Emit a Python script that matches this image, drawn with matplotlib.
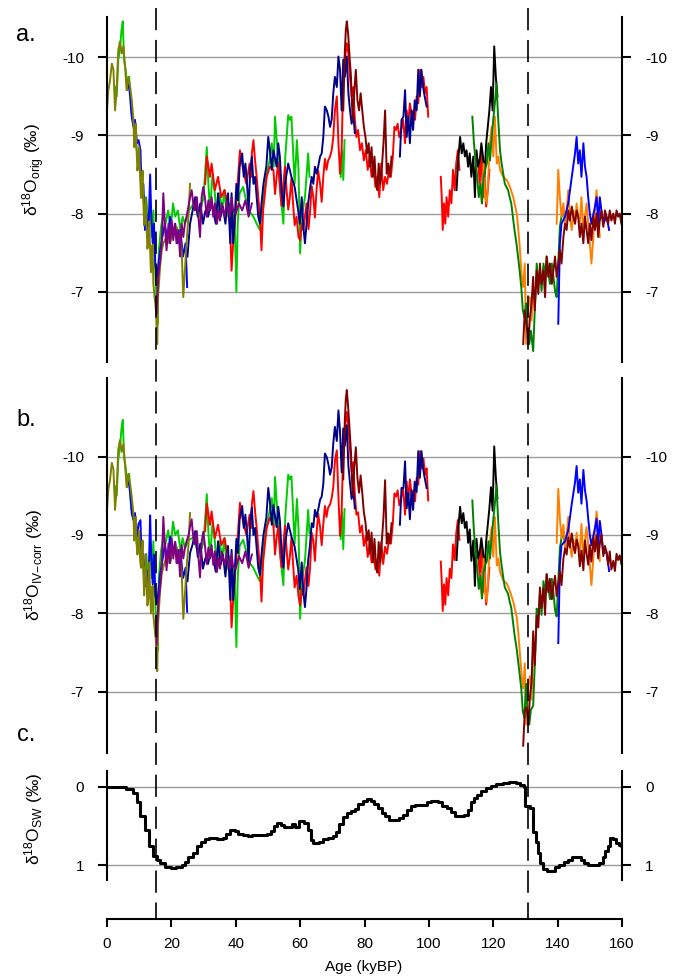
import matplotlib.pyplot as plt

plt.rcParams['font.family'] = 'Liberation Sans'
plt.rcParams['axes.unicode_minus'] = False
plt.rcParams['mathtext.fontset'] = 'custom'
plt.rcParams['mathtext.rm'] = 'Liberation Sans'
plt.rcParams['mathtext.it'] = 'Liberation Sans:italic'
plt.rcParams['mathtext.bf'] = 'Liberation Sans:bold'
plt.rcParams['lines.scale_dashes'] = False

# ---- data (age in kyBP; orig = panel a, ivc = panel b) ----
olive_age = [0.0, 0.4, 0.9, 1.5, 2.0, 2.5, 3.0, 3.5, 4.0, 4.6, 5.1, 5.6, 6.1, 6.6, 7.2, 7.7, 8.2, 8.45, 8.7, 8.95,
             9.2, 9.45, 9.7, 10.0, 10.3, 10.55, 10.8, 11.05, 11.3, 11.55, 11.8, 12.05, 12.3, 12.55, 12.8, 13.1,
             13.4, 13.65, 13.9, 14.15, 14.4, 14.7, 15.2, 15.6, 15.9, 16.5, 17.0, 17.5,
             18.5, 19.6, 20.6, 21.6, 22.7, 23.2, 23.7, 24.2, 24.7, 25.3, 25.8]
olive_orig = [-9.32, -9.58, -9.69, -9.92, -9.84, -9.32, -9.58, -10.09, -10.20, -10.05, -10.14, -9.88, -9.58, -9.75,
              -9.62, -9.45, -9.20, -8.85, -8.98, -9.15, -8.81, -8.55, -8.64, -8.85, -8.47, -8.20, -8.30, -8.55,
              -8.13, -7.85, -7.96, -8.20, -7.83, -7.55, -7.62, -7.90, -7.53, -7.25, -7.36, -7.60,
              -7.10, -6.97, -6.76, -6.33, -6.97, -7.32, -7.53, -7.62, -7.70, -7.62, -7.79, -7.83, -7.70, -7.53,
              -6.93, -7.27, -7.62, -7.96, -8.38]
olive_ivc = [-9.32, -9.58, -9.69, -9.92, -9.84, -9.32, -9.58, -10.09, -10.21, -10.06, -10.16, -9.90, -9.61, -9.78,
             -9.65, -9.48, -9.28, -8.93, -9.06, -9.23, -8.89, -8.75, -8.84, -9.05, -8.67, -8.58, -8.68, -8.93,
             -8.51, -8.23, -8.51, -8.75, -8.38, -8.10, -8.17, -8.65, -8.28, -8.00, -8.11, -8.35,
             -7.98, -7.85, -7.64, -7.26, -7.90, -8.29, -8.50, -8.59, -8.72, -8.64, -8.83, -8.85, -8.72, -8.53,
             -7.93, -8.23, -8.58, -8.86, -9.28]

green_age = [2.5, 3.0, 3.5, 4.0, 4.5, 4.9, 5.3, 5.8, 6.3, 6.9, 7.5, 8.0, 8.6, 9.2, 9.8, 10.4, 11.0, 11.6, 12.2, 12.8,
             13.4, 13.9, 14.4, 14.9, 15.4, 15.7, 16.1, 16.8, 17.5, 18.2, 19.0, 19.8, 20.5, 21.2, 22.0, 22.8, 23.5,
             24.2, 25.5, 27.0, 28.5, 30.0, 31.0, 31.5, 32.0, 32.8, 33.5, 34.2, 35.0, 35.8, 36.5, 37.2, 38.0, 38.8,
             39.6, 40.2, 40.6, 41.2, 42.3, 43.0, 44.0, 45.5, 46.5, 47.5, 48.5, 49.5, 50.5, 51.2, 51.8, 52.2, 52.8,
             53.4, 54.0, 54.8, 55.4, 56.3, 56.8, 57.3, 57.8, 58.3, 59.0, 59.5, 60.0, 60.5, 61.5, 62.5, 62.9]
green_orig = [-9.62, -9.50, -9.97, -10.09, -10.35, -10.46, -9.97, -9.84, -9.58, -9.75, -9.32, -9.20, -9.07, -8.81,
              -8.77, -8.47, -8.38, -8.04, -8.21, -7.87, -8.09, -7.70, -8.04, -7.36, -6.89, -6.59, -7.53, -7.83,
              -8.00, -7.87, -8.04, -7.79, -8.13, -7.96, -8.04, -7.79, -7.96, -7.87, -8.04, -8.13, -7.96, -8.21,
              -8.85, -8.38, -8.04, -8.51, -8.26, -7.87, -8.26, -8.04, -8.30, -7.96, -8.13, -7.87, -8.04, -7.00,
              -7.87, -8.26, -8.34, -8.21, -8.04, -7.96, -7.87, -7.79, -8.21, -8.47, -8.68, -8.90, -8.60, -9.24,
              -8.90, -8.56, -8.21, -7.87, -8.73, -9.26, -9.20, -9.24, -8.81, -8.38, -8.94, -8.56, -7.49, -7.96,
              -8.21, -8.77, -8.47]
green_ivc = [-9.62, -9.50, -9.97, -10.10, -10.36, -10.47, -9.99, -9.86, -9.61, -9.78, -9.35, -9.28, -9.15, -8.89,
             -8.97, -8.85, -8.76, -8.42, -8.76, -8.42, -8.84, -8.45, -8.92, -8.24, -7.77, -7.52, -8.46, -8.80,
             -8.97, -8.89, -9.06, -8.83, -9.17, -9.00, -9.06, -8.81, -8.96, -8.83, -8.94, -8.97, -8.72, -8.91,
             -9.52, -9.04, -8.70, -9.17, -8.92, -8.53, -8.92, -8.70, -8.96, -8.56, -8.73, -8.42, -8.59, -7.57,
             -8.44, -8.86, -8.94, -8.83, -8.66, -8.58, -8.49, -8.41, -8.83, -9.09, -9.30, -9.47, -9.10, -9.74,
             -9.36, -9.02, -8.67, -8.36, -9.24, -9.77, -9.71, -9.75, -9.32, -8.89, -9.46, -9.08, -7.93, -8.40,
             -8.67, -9.32, -9.02]
green_late_age = [72.6, 73.0, 73.4, 73.8]
green_late_orig = [-8.47, -8.81, -8.43, -8.94]
green_late_ivc = [-8.95, -9.29, -8.82, -9.33]

blue_age = [6.6, 7.2, 7.7, 8.2, 8.7, 9.3, 9.8, 10.4, 10.8, 11.3, 11.8, 12.3, 12.8, 13.4, 13.7, 14.2, 14.6, 15.0,
            15.5, 16.0, 16.5, 17.2, 18.0, 18.8, 19.6, 20.4, 21.2, 22.0, 22.8, 23.6, 24.4, 24.9]
blue_orig = [-9.71, -9.50, -9.24, -9.11, -9.20, -8.90, -8.94, -8.81, -8.21, -8.38, -7.79, -8.00, -7.62, -8.50,
             -8.04, -7.62, -7.87, -7.36, -7.19, -7.36, -7.53, -7.70, -7.87, -7.62, -7.96, -7.70, -7.87, -7.62,
             -7.79, -7.45, -7.62, -7.06]
blue_ivc = [-9.74, -9.53, -9.27, -9.19, -9.28, -8.98, -9.14, -9.19, -8.59, -8.76, -8.34, -8.55, -8.17, -9.25,
            -8.79, -8.37, -8.75, -8.24, -8.12, -8.29, -8.50, -8.67, -8.89, -8.64, -8.98, -8.74, -8.91, -8.64,
            -8.81, -8.45, -8.58, -8.02]
blue_late_age = [140.2, 140.7, 141.2, 142.3, 143.3, 144.4, 145.4, 145.9, 146.4, 146.9, 147.4, 148.0, 148.5, 149.0,
                 149.5, 150.0, 150.5, 151.6, 152.1, 152.6, 153.1, 153.6, 154.2, 155.2, 156.0]
blue_late_orig = [-6.59, -7.62, -7.87, -7.96, -8.13, -8.47, -8.77, -8.98, -8.64, -8.81, -8.47, -8.90, -8.60, -8.47,
                  -8.21, -8.00, -7.87, -8.09, -8.21, -7.87, -8.21, -8.04, -7.87, -7.96, -7.79]
blue_late_ivc = [-7.62, -8.62, -8.87, -8.92, -9.06, -9.40, -9.67, -9.88, -9.54, -9.71, -9.40, -9.83, -9.57, -9.44,
                 -9.21, -9.00, -8.87, -9.09, -9.21, -8.87, -9.18, -9.01, -8.77, -8.78, -8.54]

navy_age = [25.0, 25.8, 26.6, 27.4, 28.2, 29.0, 29.8, 30.6, 31.4, 32.2, 33.0, 33.8, 34.5, 35.3, 36.0, 36.8, 37.6,
            38.3, 38.7, 39.2, 39.7, 40.2, 40.7, 41.2, 42.0, 42.5, 43.0, 43.5, 44.0, 44.5, 45.0, 45.5, 46.0, 46.5,
            47.0, 47.5, 48.0, 48.6, 49.5, 50.1, 50.6, 51.2, 51.7, 52.7, 53.2, 53.7, 54.3, 54.8, 55.3, 56.3, 57.3,
            58.3, 59.4, 59.9, 60.5, 61.0, 61.5, 62.0, 62.5, 63.0, 63.6, 64.1, 64.6, 65.1, 65.6, 66.2, 66.7, 67.2,
            67.7, 68.3, 68.8, 69.3, 69.8, 70.3, 70.8, 71.4, 71.9, 72.4, 72.9, 73.4, 73.9, 74.5, 75.0, 75.5, 76.0,
            76.5, 77.0]
navy_orig = [-7.45, -7.87, -8.04, -8.21, -7.96, -8.13, -7.87, -8.04, -7.96, -8.13, -8.04, -7.87, -8.26, -7.96,
             -8.09, -7.87, -8.26, -7.62, -8.26, -7.62, -7.96, -8.38, -8.17, -8.60, -8.77, -8.47, -8.64, -8.38,
             -8.04, -8.56, -8.73, -8.38, -8.47, -8.21, -7.96, -7.87, -8.13, -8.38, -8.60, -8.98, -8.81, -8.56,
             -8.81, -8.60, -8.90, -8.73, -8.26, -8.09, -8.38, -8.64, -8.47, -8.34, -8.04, -7.87, -8.21, -7.83,
             -7.62, -7.87, -8.13, -8.30, -8.47, -8.38, -8.60, -8.51, -8.60, -8.73, -8.77, -8.98, -9.37, -9.32,
             -9.24, -9.11, -9.20, -9.54, -9.75, -9.62, -10.01, -9.84, -9.32, -9.97, -9.75, -10.01, -9.54, -9.32,
             -9.15, -9.28, -9.03]
navy_ivc = [-8.41, -8.77, -8.88, -9.05, -8.72, -8.89, -8.57, -8.71, -8.63, -8.79, -8.70, -8.53, -8.92, -8.62,
            -8.75, -8.47, -8.86, -8.17, -8.81, -8.17, -8.53, -8.95, -8.77, -9.20, -9.37, -9.09, -9.26, -9.00,
            -8.66, -9.18, -9.35, -9.00, -9.09, -8.83, -8.58, -8.49, -8.75, -9.00, -9.22, -9.60, -9.43, -9.13,
            -9.38, -9.10, -9.36, -9.19, -8.75, -8.58, -8.89, -9.15, -8.98, -8.85, -8.56, -8.31, -8.65, -8.27,
            -8.08, -8.33, -8.68, -8.85, -9.15, -9.10, -9.32, -9.23, -9.32, -9.45, -9.49, -9.65, -10.04, -9.99,
            -9.90, -9.77, -9.86, -10.17, -10.38, -10.20, -10.59, -10.32, -9.80, -10.36, -10.14, -10.40, -9.88,
            -9.66, -9.46, -9.59, -9.34]
navy_late_age = [91.0, 91.5, 92.1, 92.6, 93.1, 93.6, 94.1, 94.6, 95.1, 95.6, 96.2, 96.7, 97.2, 97.7, 98.2, 98.7, 99.3]
navy_late_orig = [-8.73, -9.20, -9.24, -9.58, -8.98, -9.24, -8.90, -9.32, -9.07, -9.45, -9.32, -9.84, -9.50, -9.84,
                  -9.62, -9.50, -9.37]
navy_late_ivc = [-9.13, -9.60, -9.60, -9.94, -9.34, -9.54, -9.20, -9.57, -9.32, -9.68, -9.55, -10.07, -9.73, -10.07,
                 -9.85, -9.73, -9.60]

purple_age = [15.4, 15.9, 16.4, 17.0, 17.5, 18.0, 18.5, 19.1, 19.6, 20.1, 20.6, 21.1, 21.6, 22.2, 22.7, 23.2, 23.7,
              24.2, 24.7, 25.3, 25.8, 26.3, 26.8, 27.3, 27.9, 28.4, 28.9, 29.4, 29.9, 30.4, 31.0, 31.5, 32.0, 32.5,
              33.0, 33.5, 34.1, 34.6, 35.1, 35.6, 36.1, 36.6, 37.2, 37.7, 38.2, 38.7, 39.2, 40.0, 41.0, 42.0, 43.0,
              44.0, 45.0]
purple_orig = [-6.72, -7.19, -7.36, -7.62, -8.26, -7.83, -7.53, -7.87, -7.62, -7.91, -7.66, -7.87, -7.62, -7.79,
               -7.45, -7.87, -7.70, -7.87, -7.96, -8.09, -8.21, -8.30, -8.13, -8.04, -8.21, -7.96, -7.70, -8.21,
               -8.34, -8.21, -7.96, -8.17, -8.04, -8.21, -7.96, -8.13, -7.87, -8.04, -7.91, -8.13, -8.04, -7.96,
               -8.17, -8.04, -7.96, -8.21, -8.04, -8.00, -8.13, -8.04, -8.17, -7.96, -8.13]
purple_ivc = [-7.60, -8.12, -8.29, -8.59, -9.23, -8.85, -8.55, -8.89, -8.64, -8.95, -8.70, -8.91, -8.64, -8.81,
              -8.47, -8.87, -8.70, -8.83, -8.92, -8.99, -9.11, -9.20, -8.97, -8.88, -9.05, -8.72, -8.46, -8.91,
              -9.04, -8.88, -8.63, -8.84, -8.70, -8.87, -8.62, -8.79, -8.53, -8.70, -8.57, -8.79, -8.70, -8.62,
              -8.77, -8.64, -8.56, -8.76, -8.59, -8.57, -8.73, -8.64, -8.79, -8.58, -8.75]

red_age = [30.5, 31.0, 31.5, 32.0, 32.5, 33.5, 34.5, 35.5, 36.5, 37.5, 38.2, 38.7, 39.2, 39.7, 40.3, 41.3, 42.3,
           43.3, 44.3, 44.8, 45.0, 45.5, 46.0, 46.5, 47.0, 47.5, 48.0, 48.5, 49.6, 50.6, 51.7, 52.2, 52.7, 53.2,
           53.7, 54.2, 54.8, 55.3, 55.8, 56.3, 56.8, 57.3, 57.8, 58.3, 58.9, 59.5, 60.0, 60.5, 61.0, 61.5, 62.0,
           62.6, 63.1, 63.6, 64.1, 64.6, 65.1, 65.6, 66.2, 66.7, 67.2, 67.7, 68.2, 68.7,
           69.3, 69.8, 70.3, 70.8, 71.4, 71.9, 72.4, 72.9, 73.4, 73.9, 74.5, 75.0, 75.5, 76.0, 76.5, 77.0, 77.5,
           78.0, 78.6, 79.2, 79.8, 80.4, 81.0, 81.6, 82.2, 82.8, 83.4, 84.0, 84.6, 85.2, 85.8, 86.4, 87.0, 87.6,
           88.2, 88.8, 89.3, 89.8, 90.3, 90.8, 91.4, 92.0, 92.6, 93.1, 93.6, 94.1, 94.7, 95.2, 95.7, 96.2, 96.7,
           97.3, 97.8, 98.3, 98.8, 99.3, 99.8]
red_orig = [-8.38, -8.73, -8.60, -8.47, -8.64, -8.30, -8.47, -8.21, -8.30, -8.13, -7.87, -7.27, -7.62, -7.87,
            -8.21, -8.81, -8.56, -8.38, -8.64, -8.47, -8.77, -8.94, -8.68, -8.47, -8.21, -7.96, -7.53, -8.04,
            -8.47, -8.60, -8.56, -8.25, -8.47, -8.65, -8.34, -8.10, -8.38, -8.60, -8.30, -8.05, -8.21, -8.45,
            -8.13, -7.85, -7.96, -7.70, -7.66, -7.87, -7.79, -7.96, -8.13, -7.80, -8.04, -8.35, -8.21, -7.95,
            -8.30, -8.55, -8.38, -8.15, -8.47, -8.70, -8.56, -8.68, -8.73, -8.81, -8.98, -9.32, -9.50,
            -8.90, -8.51, -8.81, -9.75, -9.97, -10.18, -10.05, -9.75, -9.50, -9.62, -9.20, -8.98, -9.07, -8.81,
            -8.90, -8.68, -8.81, -8.56, -8.73, -8.47, -8.60, -8.34, -8.47, -8.21, -8.64, -8.30, -8.47, -8.38,
            -8.56, -8.47, -8.73, -9.11, -9.07, -9.15, -8.98, -9.07, -9.20, -8.90, -9.32, -9.15, -9.41, -9.24,
            -9.32, -9.20, -9.50, -9.41, -9.84, -9.62, -9.75, -9.54, -9.62, -9.24]
red_ivc = [-9.05, -9.40, -9.27, -9.13, -9.30, -8.96, -9.13, -8.87, -8.96, -8.73, -8.47, -7.82, -8.17, -8.44,
           -8.78, -9.41, -9.16, -9.00, -9.26, -9.09, -9.39, -9.56, -9.30, -9.09, -8.83, -8.58, -8.15, -8.66,
           -9.09, -9.22, -9.13, -8.75, -8.97, -9.11, -8.80, -8.59, -8.87, -9.12, -8.81, -8.56, -8.72, -8.96,
           -8.64, -8.33, -8.48, -8.22, -8.10, -8.31, -8.23, -8.42, -8.59, -8.35, -8.59, -9.03, -8.93, -8.67,
           -9.02, -9.27, -9.10, -8.87, -9.14, -9.37, -9.23, -9.35, -9.39, -9.47, -9.61, -9.95, -10.08,
           -9.48, -8.99, -9.29, -10.14, -10.36, -10.57, -10.39, -10.09, -9.81, -9.93, -9.51, -9.26, -9.29, -9.03,
           -9.12, -8.86, -8.99, -8.72, -8.89, -8.65, -8.78, -8.56, -8.69, -8.48, -8.91, -8.63, -8.85, -8.76,
           -8.94, -8.89, -9.15, -9.53, -9.49, -9.57, -9.38, -9.47, -9.60, -9.26, -9.68, -9.45, -9.71, -9.49,
           -9.57, -9.43, -9.73, -9.64, -10.07, -9.85, -9.98, -9.77, -9.85, -9.44]
red_mid_age = [103.7, 104.0, 104.3, 104.7, 105.1, 105.5, 106.0, 106.5, 107.0, 107.5, 108.0, 108.5, 109.0, 109.5]
red_mid_orig = [-8.47, -8.21, -7.79, -8.13, -7.87, -8.21, -7.96, -8.30, -8.13, -8.56, -8.30, -8.64, -8.81, -8.56]
red_mid_ivc = [-8.66, -8.40, -8.03, -8.37, -8.11, -8.45, -8.23, -8.57, -8.45, -8.88, -8.68, -9.02, -9.19, -8.94]
red_late_age = [115.3, 115.8, 116.3, 116.8, 117.3, 117.8, 118.3, 118.8]
red_late_orig = [-8.68, -8.38, -8.81, -8.21, -8.47, -8.09, -8.30, -8.56]
red_late_ivc = [-8.78, -8.48, -8.87, -8.27, -8.53, -8.11, -8.32, -8.58]

maroon_age = [73.4, 73.9, 74.2, 74.5, 74.9, 75.3, 75.8, 76.3, 76.8, 77.3, 77.8, 78.3, 78.8, 79.3, 79.8, 80.3, 80.8,
              81.3, 81.7, 82.2, 82.6, 83.1, 83.6, 84.0, 84.4, 84.9, 85.4, 85.9, 86.4, 86.9, 87.4, 87.9, 88.4]
maroon_orig = [-9.32, -10.09, -10.35, -10.46, -10.31, -10.05, -9.75, -9.20, -9.54, -9.84, -9.45, -9.32, -9.54,
               -9.32, -9.11, -8.98, -8.77, -8.90, -8.60, -8.85, -8.47, -8.73, -8.38, -8.30, -8.64, -8.38, -8.60,
               -8.90, -9.32, -8.51, -8.64, -8.47, -8.73]
maroon_ivc = [-9.71, -10.48, -10.74, -10.85, -10.65, -10.39, -10.06, -9.51, -9.85, -10.12, -9.73, -9.54, -9.76,
              -9.54, -9.29, -9.16, -8.93, -9.06, -8.76, -9.03, -8.65, -8.95, -8.60, -8.52, -8.91, -8.65, -8.93,
              -9.23, -9.70, -8.89, -9.02, -8.89, -9.15]
maroon_late_age = [129.3, 129.8, 130.4, 130.9, 131.4, 131.9, 132.4, 132.9, 133.5, 134.0, 134.5, 135.0, 135.6, 136.1,
                   136.6, 137.1, 137.6, 138.2, 138.7, 139.2, 139.7, 140.2, 140.7, 141.2, 141.8, 142.3, 142.8, 143.3,
                   143.8, 144.4, 144.9, 145.4, 145.9, 146.4, 146.9, 147.4, 148.0, 148.5, 149.0, 149.5, 150.0, 150.5,
                   151.1, 151.6, 152.1, 152.6, 153.1, 153.6, 154.2, 154.7, 155.2, 155.7, 156.2, 156.7, 157.3, 157.8,
                   158.3, 158.8, 159.3, 159.8]
maroon_late_orig = [-6.33, -6.76, -6.55, -6.33, -6.67, -6.85, -7.19, -6.76, -7.27, -6.97, -7.36, -7.10, -7.27, -6.93,
                    -7.45, -7.19, -7.36, -7.10, -7.27, -7.45, -7.19, -7.36, -7.53, -7.36, -7.70, -7.87, -7.79, -8.04,
                    -7.91, -8.09, -7.96, -7.87, -8.04, -7.96, -7.70, -7.87, -7.62, -7.96, -7.79, -7.62, -7.87, -7.66,
                    -7.96, -7.79, -8.00, -7.70, -7.91, -8.04, -7.83, -8.04, -7.96, -7.87, -8.04, -7.91, -8.00, -7.87,
                    -8.04, -7.96, -8.00, -7.87]
maroon_late_ivc = [-6.31, -6.76, -6.80, -6.58, -6.94, -7.12, -7.77, -7.34, -7.97, -7.82, -8.33, -8.07, -8.32, -7.98,
                   -8.50, -8.27, -8.44, -8.18, -8.35, -8.48, -8.22, -8.39, -8.53, -8.36, -8.70, -8.83, -8.75, -8.97,
                   -8.84, -9.02, -8.86, -8.77, -8.94, -8.86, -8.60, -8.80, -8.55, -8.93, -8.76, -8.62, -8.87, -8.66,
                   -8.96, -8.79, -9.00, -8.70, -8.88, -9.01, -8.73, -8.86, -8.78, -8.62, -8.79, -8.56, -8.67, -8.54,
                   -8.76, -8.68, -8.74, -8.63]

black_age = [108.6, 109.1, 109.7, 110.2, 110.7, 111.2, 111.7, 112.2, 112.7, 113.2, 113.8, 114.3, 114.8, 115.3,
             115.8, 116.3, 116.8, 117.3, 117.8, 118.3, 118.8, 119.3, 119.8, 120.3, 120.8, 121.3]
black_orig = [-8.30, -8.68, -8.98, -8.77, -8.90, -8.73, -8.81, -8.60, -8.77, -8.47, -8.73, -8.21, -8.81, -8.60,
              -8.68, -8.90, -8.73, -8.47, -8.90, -9.11, -9.32, -9.62, -9.32, -10.14, -9.75, -9.50]
black_ivc = [-8.68, -9.06, -9.36, -9.15, -9.28, -9.09, -9.17, -8.90, -9.07, -8.67, -8.93, -8.35, -8.95, -8.70,
             -8.78, -8.96, -8.79, -8.53, -8.92, -9.13, -9.34, -9.61, -9.31, -10.13, -9.74, -9.47]

dkgreen_age = [113.5, 114.0, 114.5, 115.0, 115.5, 116.0, 116.5, 117.0, 117.5, 118.0, 118.5, 119.0, 119.5, 120.0,
               120.5, 121.0, 121.5, 122.1, 122.6, 123.1, 123.6, 124.1, 124.6, 125.1, 125.6, 126.1, 126.6, 127.2,
               127.7, 128.2, 128.7, 129.2, 129.7, 130.2, 130.7, 131.2, 131.7, 132.4, 132.9, 133.5, 134.0, 134.5,
               135.0, 135.6, 136.1, 136.6, 137.1, 137.6, 138.2, 138.7, 139.2, 139.7, 140.2, 140.7, 141.2, 141.8,
               142.3]
dkgreen_orig = [-9.24, -8.90, -8.68, -8.47, -8.21, -8.38, -8.13, -8.47, -8.56, -8.64, -8.90, -8.68, -8.98, -9.20,
                -9.41, -9.66, -9.24, -8.81, -8.64, -8.51, -8.38, -8.34, -8.30, -8.21, -8.13, -7.96, -7.79, -7.62,
                -7.45, -7.27, -7.06, -6.76, -6.67, -6.85, -6.50, -6.33, -6.50, -6.24, -6.76, -7.36, -7.10, -7.27,
                -7.01, -7.36, -7.19, -7.45, -7.27, -7.10, -7.36, -7.19, -7.01, -6.93, -7.36, -7.83, -7.96, -8.04,
                -7.91]
dkgreen_ivc = [-9.44, -9.04, -8.82, -8.57, -8.31, -8.48, -8.19, -8.53, -8.62, -8.66, -8.92, -8.70, -8.97, -9.19,
               -9.40, -9.63, -9.21, -8.78, -8.61, -8.46, -8.33, -8.29, -8.25, -8.15, -8.07, -7.90, -7.73, -7.57,
               -7.40, -7.22, -7.04, -6.74, -6.67, -7.10, -6.75, -6.58, -6.77, -6.82, -7.34, -8.06, -7.95, -8.24,
               -7.98, -8.41, -8.24, -8.50, -8.35, -8.18, -8.44, -8.27, -8.04, -7.96, -8.39, -8.83, -8.96, -9.04,
               -8.87]

orange_age = [116.0, 116.5, 117.0, 117.5, 118.0, 118.5, 119.0, 119.5, 120.0, 120.5, 121.1, 121.6, 122.1, 123.1,
              124.2, 125.2, 126.2, 127.3, 127.8, 128.3, 128.8, 129.3, 129.8, 130.2, 130.9, 131.4, 131.9, 132.4]
orange_orig = [-8.38, -8.13, -8.64, -8.21, -8.13, -8.51, -8.90, -9.11, -8.73, -9.24, -8.64, -8.73, -8.56, -8.47,
               -8.43, -8.34, -8.21, -8.00, -7.79, -7.53, -7.23, -7.06, -7.36, -6.33, -6.85, -6.93, -6.63, -6.97]
orange_ivc = [-8.48, -8.19, -8.70, -8.27, -8.15, -8.53, -8.92, -9.10, -8.72, -9.23, -8.61, -8.70, -8.53, -8.42,
              -8.38, -8.28, -8.15, -7.95, -7.74, -7.48, -7.21, -7.04, -7.36, -6.58, -7.10, -7.20, -6.90, -7.55]
orange_late_age = [139.7, 140.2, 140.7, 141.2, 141.8, 142.3, 142.8, 143.3, 143.8, 144.4, 144.9, 145.4, 145.9, 146.4,
                   146.9, 147.4, 148.0, 148.5, 149.0, 149.5, 150.0, 150.5, 151.1, 151.6, 152.1, 152.6, 153.1]
orange_late_orig = [-7.87, -8.56, -8.21, -7.96, -8.13, -7.87, -8.04, -8.30, -7.96, -7.79, -8.04, -7.87, -8.13,
                    -7.96, -7.87, -8.21, -7.79, -7.96, -8.13, -7.87, -7.62, -7.36, -7.70, -8.04, -8.30, -8.04, -7.70]
orange_late_ivc = [-8.90, -9.59, -9.21, -8.96, -9.13, -8.83, -9.00, -9.23, -8.89, -8.72, -8.94, -8.77, -9.03,
                   -8.86, -8.77, -9.14, -8.72, -8.93, -9.10, -8.87, -8.62, -8.36, -8.70, -9.04, -9.30, -9.04, -8.67]

# panel c: seawater d18O (ice-volume) step curve
sw_age = [0, 3.4, 6, 8, 9.4, 10.4, 11.8, 13, 14.4, 15.5, 16.5, 18, 19.8, 21.5, 23.3, 24.2, 25.3, 26.6, 28, 29.2,
          30.3, 31.6, 34.3, 36, 37, 38.3, 39.7, 40.7, 42.4, 43.7, 45, 47, 49.7, 50.8, 51.8, 52.8, 54.2, 55.1, 56.5,
          57.4, 58.5, 59.8, 61.2, 62.5, 63.3, 64.1, 65.9, 67.2, 68.8, 70.2, 71.3, 72.2, 73.3, 74.7, 75.7, 77.1, 78,
          79.4, 80.7, 82, 83.1, 84.3, 85.4, 86.4, 87.7, 89.4, 90.8, 92.1, 93.2, 94.3, 95.6, 98.2, 99.5, 100.8,
          102.9, 104.2, 105.6, 106.9, 108, 109.6, 111, 112, 113, 114, 115, 116.3, 117.6, 119.2, 121, 123, 125, 127,
          128.4, 129.5, 130, 131.4, 132.2, 133.2, 133.8, 134.5, 135.5, 136.8, 138.2, 139.2, 140.5, 141.9, 143.2,
          144.6, 146.3, 147.3, 148.2, 149.3, 152, 153, 154, 154.7, 155.6, 156.4, 157.3, 158, 159, 159.8, 160]
sw_val = [0.0, 0.01, 0.03, 0.08, 0.2, 0.38, 0.55, 0.75, 0.88, 0.93, 0.97, 1.02, 1.04, 1.02, 1.0, 0.96, 0.9, 0.84,
          0.76, 0.7, 0.67, 0.66, 0.67, 0.65, 0.6, 0.55, 0.57, 0.6, 0.62, 0.63, 0.61, 0.62, 0.6, 0.57, 0.5, 0.46,
          0.49, 0.52, 0.51, 0.48, 0.52, 0.44, 0.46, 0.55, 0.68, 0.72, 0.71, 0.67, 0.66, 0.63, 0.58, 0.48, 0.39,
          0.34, 0.31, 0.28, 0.22, 0.18, 0.16, 0.18, 0.22, 0.27, 0.33, 0.38, 0.42, 0.42, 0.4, 0.36, 0.3, 0.25, 0.23,
          0.23, 0.2, 0.18, 0.19, 0.24, 0.27, 0.32, 0.38, 0.38, 0.36, 0.3, 0.2, 0.14, 0.1, 0.06, 0.02, -0.01, -0.03,
          -0.05, -0.06, -0.05, -0.02, 0.0, 0.25, 0.27, 0.58, 0.7, 0.85, 0.97, 1.05, 1.08, 1.08, 1.03, 1.0, 0.96,
          0.93, 0.9, 0.9, 0.93, 0.97, 1.0, 1.0, 0.97, 0.9, 0.82, 0.75, 0.65, 0.67, 0.72, 0.74, 0.76, 0.76]

terminations = [15.15, 130.7]

# draw order = stacking order in the original
traces = [
    (green_age, green_orig, green_ivc, '#00CC00'),
    (green_late_age, green_late_orig, green_late_ivc, '#00CC00'),
    (blue_age, blue_orig, blue_ivc, '#0000FF'),
    (red_age, red_orig, red_ivc, '#FF0000'),
    (red_mid_age, red_mid_orig, red_mid_ivc, '#FF0000'),
    (red_late_age, red_late_orig, red_late_ivc, '#FF0000'),
    (navy_age, navy_orig, navy_ivc, '#00008B'),
    (navy_late_age, navy_late_orig, navy_late_ivc, '#00008B'),
    (olive_age, olive_orig, olive_ivc, '#808000'),
    (purple_age, purple_orig, purple_ivc, '#800080'),
    (maroon_age, maroon_orig, maroon_ivc, '#800000'),
    (black_age, black_orig, black_ivc, '#000000'),
    (orange_age, orange_orig, orange_ivc, '#FF8000'),
    (dkgreen_age, dkgreen_orig, dkgreen_ivc, '#008000'),
    (orange_late_age, orange_late_orig, orange_late_ivc, '#FF8000'),
    (blue_late_age, blue_late_orig, blue_late_ivc, '#0000FF'),
    (maroon_late_age, maroon_late_orig, maroon_late_ivc, '#800000'),
]

H = 977.0
fig = plt.figure(figsize=(6.8, 9.77), dpi=100)


def box(top_px, bot_px):
    return [107 / 680, 1 - bot_px / H, 515 / 680, (bot_px - top_px) / H]


def style_panel(ax, ylim, yticks):
    ax.set_xlim(0, 160)
    ax.set_ylim(*ylim)
    ax.set_facecolor('none')
    ax.spines['top'].set_visible(False)
    ax.spines['bottom'].set_visible(False)
    ax.spines['left'].set_linewidth(1.5)
    ax.spines['right'].set_linewidth(1.5)
    ax.set_xticks([])
    ax.set_yticks(yticks)
    ax.set_yticklabels([str(t) for t in yticks])
    ax.tick_params(axis='y', direction='out', length=6.5, width=1.5, labelsize=11, pad=10,
                   left=True, right=True, labelleft=True, labelright=True)
    ax.grid(axis='y', color='#9a9a9a', lw=1.0)
    ax.set_axisbelow(True)


ax_a = fig.add_axes(box(17.3, 361.7))
ax_b = fig.add_axes(box(378.3, 753))
ax_c = fig.add_axes(box(770.7, 880))
style_panel(ax_a, (-6.104, -10.512), [-10, -9, -8, -7])
style_panel(ax_b, (-6.217, -11.0), [-10, -9, -8, -7])
style_panel(ax_c, (1.19, -0.204), [0, 1])

for age, orig, ivc, col in traces:
    ax_a.plot(age, orig, color=col, lw=1.4)
    ax_b.plot(age, ivc, color=col, lw=1.4)

ax_c.plot(sw_age, sw_val, drawstyle='steps-post', color='black', lw=2.2)

# shared age axis + termination markers
ax_x = fig.add_axes(box(8, 919))
ax_x.set_facecolor('none')
for s in ('left', 'right', 'top'):
    ax_x.spines[s].set_visible(False)
ax_x.spines['bottom'].set_linewidth(1.5)
ax_x.set_xlim(0, 160)
ax_x.set_ylim(0, 1)
ax_x.set_yticks([])
ax_x.set_xticks(range(0, 161, 20))
ax_x.tick_params(axis='x', direction='out', length=6, width=1.5, labelsize=11, pad=7)
for t in terminations:
    ax_x.plot([t, t], [1, 0], color='black', lw=1.2, dashes=(16, 7))

fig.text(364 / 680, 1 - 967 / H, 'Age (kyBP)', fontsize=11, ha='center', va='center')

for lab, y in (('a.', 35), ('b.', 420), ('c.', 735)):
    fig.text(26 / 680, 1 - y / H, lab, fontsize=17, ha='center', va='center')

fig.text(34 / 680, 1 - 170 / H, r'δ$^{18}$O$_{\mathrm{orig}}$ (‰)', rotation=90, fontsize=12.5,
         ha='center', va='center')
fig.text(34 / 680, 1 - 565 / H, r'δ$^{18}$O$_{\mathrm{IV{-}corr}}$ (‰)', rotation=90, fontsize=12.5,
         ha='center', va='center')
fig.text(34 / 680, 1 - 819 / H, r'δ$^{18}$O$_{\mathrm{SW}}$ (‰)', rotation=90, fontsize=12.5,
         ha='center', va='center')

fig.savefig('out.png', dpi=100)
